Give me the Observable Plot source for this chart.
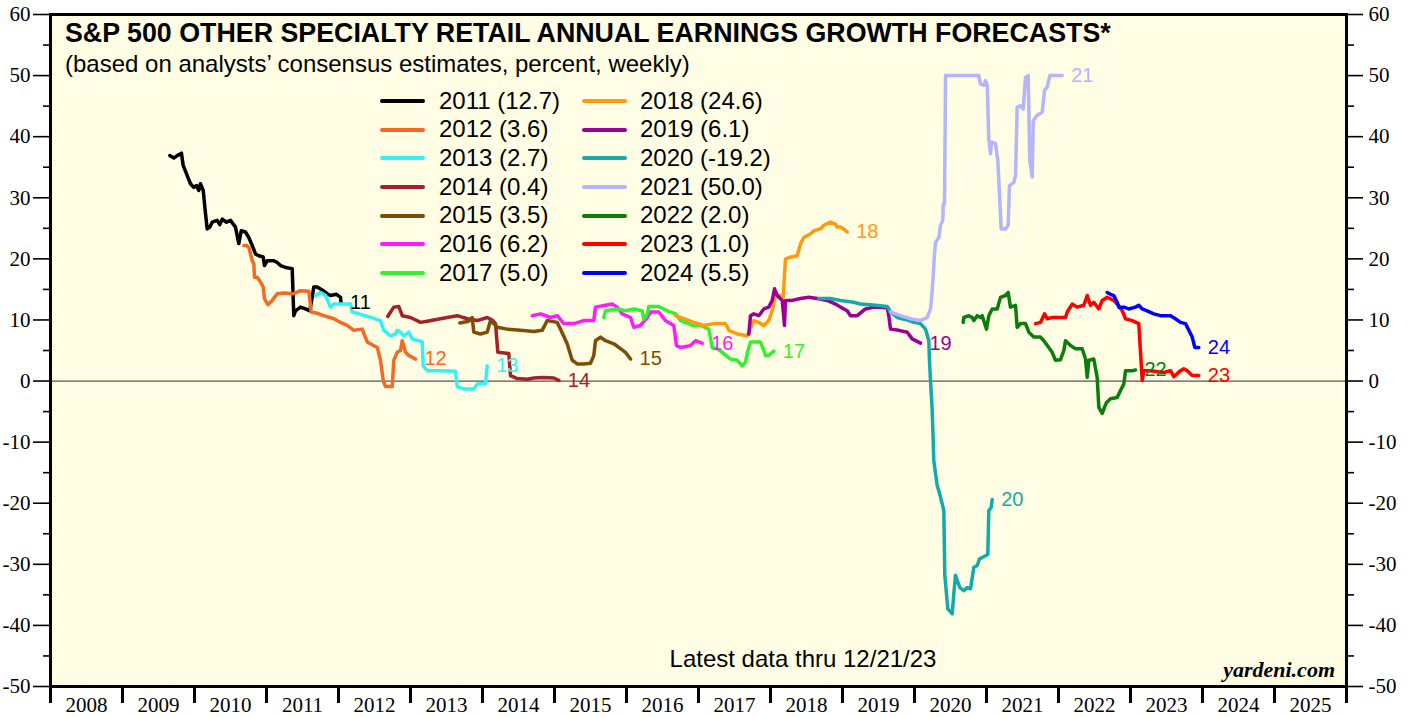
<!DOCTYPE html>
<html>
<head>
<meta charset="utf-8">
<script src="https://cdn.jsdelivr.net/npm/d3@7"></script>
<script src="https://cdn.jsdelivr.net/npm/@observablehq/plot@0.6"></script>
<style>
  html, body { margin: 0; padding: 0; background: #fff; }
  #wrap { position: relative; width: 1411px; height: 717px; overflow: hidden; }
  .ov { position: absolute; white-space: nowrap; line-height: 1; font-family: "Liberation Sans", Arial, sans-serif; color: #000; }
  #legend { position: absolute; left: 380px; top: 86.7px; display: flex; gap: 0; font-family: "Liberation Sans", Arial, sans-serif; font-size: 24px; }
  .col { display: flex; flex-direction: column; }
  .row { display: flex; align-items: center; height: 28.67px; }
  .sw { display: inline-block; width: 45px; height: 4px; border-radius: 2px; }
  .lt { line-height: 28.67px; white-space: nowrap; }
</style>
</head>
<body>
<div id="wrap"></div>
<script>
// ---- data ----
const seriesNames = ["2011","2012","2013","2014","2015","2016","2017","2018","2019","2020","2021","2022","2023","2024"];
const finalValues = ["12.7","3.6","2.7","0.4","3.5","6.2","5.0","24.6","6.1","-19.2","50.0","2.0","1.0","5.5"];
const endLabels = ["11","12","13","14","15","16","17","18","19","20","21","22","23","24"];
const seriesColors = ["#000000","#f26a24","#33f2f5","#a3222a","#7f4c06","#ff1aff","#33f033","#ff9a0e","#990099","#12aaaa","#b4b4ff","#0a7d0a","#ff0000","#0000ff"];

const s2011 = [[2009.657,36.9],[2009.713,36.5],[2009.760,36.9],[2009.819,37.3],[2009.843,35.3],[2009.889,33.9],[2009.944,32.3],[2009.990,31.7],[2010.028,32.0],[2010.060,31.2],[2010.083,32.3],[2010.121,31.2],[2010.153,27.4],[2010.176,24.9],[2010.213,25.2],[2010.246,26.0],[2010.315,26.3],[2010.351,25.6],[2010.385,26.5],[2010.444,26.0],[2010.500,26.3],[2010.569,25.2],[2010.615,22.5],[2010.649,24.6],[2010.708,24.4],[2010.754,23.5],[2010.801,22.2],[2010.847,20.8],[2010.893,20.5],[2010.954,20.3],[2010.972,18.9],[2011.010,19.7],[2011.101,19.7],[2011.149,19.4],[2011.194,18.9],[2011.264,18.6],[2011.357,18.4],[2011.379,10.7],[2011.403,11.5],[2011.472,12.1],[2011.542,11.8],[2011.601,11.5],[2011.635,13.7],[2011.657,15.4],[2011.704,15.4],[2011.774,14.9],[2011.843,14.3],[2011.889,14.0],[2011.972,14.2],[2012.028,13.7],[2012.035,12.9]];
const s2012 = [[2010.685,22.2],[2010.722,22.2],[2010.754,21.9],[2010.801,19.7],[2010.824,19.2],[2010.833,17.0],[2010.871,17.0],[2010.917,16.2],[2010.954,15.4],[2010.972,13.5],[2011.018,12.5],[2011.079,13.2],[2011.149,14.3],[2011.240,14.4],[2011.379,14.3],[2011.472,14.8],[2011.588,14.7],[2011.621,11.3],[2011.704,11.1],[2011.796,10.7],[2011.935,10.2],[2012.028,9.6],[2012.121,9.1],[2012.213,8.3],[2012.329,8.5],[2012.399,6.4],[2012.538,5.5],[2012.583,3.4],[2012.621,0.1],[2012.653,-0.9],[2012.746,-0.9],[2012.768,3.4],[2012.815,4.7],[2012.861,5.0],[2012.885,6.6],[2012.931,4.7],[2012.976,4.2],[2013.069,3.6]];
const s2013 = [[2011.681,14.0],[2011.750,14.5],[2011.819,14.0],[2011.889,12.1],[2011.935,12.6],[2012.167,12.6],[2012.190,11.3],[2012.375,10.7],[2012.583,9.9],[2012.629,8.3],[2012.722,7.4],[2012.792,7.7],[2012.815,8.3],[2012.861,8.0],[2012.907,7.4],[2012.976,8.0],[2013.024,6.9],[2013.115,6.6],[2013.163,6.4],[2013.176,2.5],[2013.232,1.7],[2013.417,1.7],[2013.625,1.6],[2013.649,-0.9],[2013.740,-1.3],[2013.879,-1.3],[2013.926,-0.5],[2014.042,-0.4],[2014.065,2.5]];
const s2014 = [[2012.685,10.6],[2012.768,12.1],[2012.838,12.2],[2012.885,10.7],[2013.000,10.4],[2013.139,9.6],[2013.232,9.8],[2013.324,10.0],[2013.510,10.4],[2013.649,10.7],[2013.788,10.2],[2013.926,9.9],[2014.065,10.4],[2014.135,10.0],[2014.181,9.4],[2014.213,4.7],[2014.365,4.5],[2014.389,0.9],[2014.482,0.4],[2014.621,0.3],[2014.713,0.5],[2014.851,0.6],[2014.990,0.5],[2015.060,0.1]];
const s2015 = [[2013.685,9.5],[2013.810,9.8],[2013.857,10.4],[2013.879,8.0],[2013.972,7.7],[2014.065,8.0],[2014.111,9.9],[2014.204,8.8],[2014.343,8.5],[2014.528,8.3],[2014.713,8.1],[2014.829,8.3],[2014.899,9.9],[2015.038,9.6],[2015.083,8.5],[2015.176,6.1],[2015.246,3.4],[2015.315,2.8],[2015.407,2.8],[2015.500,2.9],[2015.546,4.2],[2015.569,6.6],[2015.639,7.2],[2015.708,6.6],[2015.824,6.1],[2015.917,5.3],[2015.986,4.7],[2016.056,3.6]];
const s2016 = [[2014.690,10.7],[2014.806,11.0],[2014.944,10.4],[2015.038,10.7],[2015.129,9.4],[2015.268,9.4],[2015.407,9.9],[2015.546,9.9],[2015.569,12.1],[2015.708,12.4],[2015.801,12.6],[2015.871,12.1],[2015.940,11.0],[2016.056,10.4],[2016.101,8.8],[2016.194,9.1],[2016.288,10.4],[2016.333,11.3],[2016.449,11.3],[2016.542,9.9],[2016.611,9.4],[2016.657,9.1],[2016.694,5.8],[2016.750,5.5],[2016.889,5.8],[2016.958,6.6],[2017.051,6.2]];
const s2017 = [[2015.685,10.4],[2015.708,11.5],[2015.871,11.8],[2015.986,11.5],[2016.101,11.8],[2016.218,11.5],[2016.240,10.1],[2016.288,11.0],[2016.310,12.2],[2016.449,12.2],[2016.565,11.5],[2016.681,11.0],[2016.750,9.9],[2016.843,9.5],[2016.913,9.1],[2017.028,9.1],[2017.143,8.5],[2017.190,5.5],[2017.260,5.3],[2017.351,4.5],[2017.444,3.6],[2017.538,3.4],[2017.607,2.5],[2017.653,3.1],[2017.676,4.5],[2017.722,6.4],[2017.861,6.4],[2017.907,5.0],[2017.931,4.2],[2017.976,4.2],[2018.046,4.9]];
const s2018 = [[2016.681,10.7],[2016.796,10.2],[2016.935,9.6],[2017.074,9.1],[2017.213,9.4],[2017.375,9.4],[2017.421,8.3],[2017.538,7.7],[2017.676,7.4],[2017.768,9.9],[2017.838,9.6],[2017.907,9.1],[2017.976,9.9],[2018.024,11.5],[2018.069,14.0],[2018.139,14.0],[2018.176,13.7],[2018.208,20.0],[2018.278,20.3],[2018.371,20.5],[2018.417,22.5],[2018.463,23.5],[2018.556,24.1],[2018.601,24.6],[2018.694,24.9],[2018.740,25.5],[2018.833,26.0],[2018.903,25.7],[2018.926,25.2],[2018.972,25.2],[2019.018,24.9],[2019.065,24.4]];
const s2019 = [[2017.699,7.7],[2017.722,10.7],[2017.768,11.0],[2017.838,10.7],[2017.907,11.8],[2017.976,12.1],[2018.024,13.2],[2018.056,15.1],[2018.093,14.0],[2018.163,13.2],[2018.194,9.1],[2018.208,13.2],[2018.301,13.2],[2018.417,13.5],[2018.532,13.7],[2018.649,13.5],[2018.788,13.2],[2018.903,12.6],[2018.972,12.1],[2019.065,11.5],[2019.111,10.7],[2019.204,10.7],[2019.319,11.8],[2019.435,12.1],[2019.621,12.0],[2019.643,10.7],[2019.667,8.5],[2019.782,8.3],[2019.899,8.0],[2019.968,6.9],[2020.083,6.2]];
const s2020 = [[2018.671,13.5],[2018.833,13.5],[2018.972,13.2],[2019.157,12.9],[2019.250,12.6],[2019.389,12.5],[2019.621,12.2],[2019.667,11.3],[2019.760,10.4],[2019.899,10.0],[2019.990,9.6],[2020.083,9.4],[2020.153,8.5],[2020.199,6.6],[2020.208,3.4],[2020.222,0.1],[2020.246,-4.8],[2020.268,-13.0],[2020.315,-17.1],[2020.351,-18.5],[2020.385,-20.1],[2020.407,-21.2],[2020.421,-31.8],[2020.463,-37.3],[2020.524,-38.1],[2020.546,-34.8],[2020.569,-31.8],[2020.629,-33.8],[2020.685,-34.3],[2020.732,-33.8],[2020.778,-34.0],[2020.824,-30.5],[2020.871,-30.2],[2020.903,-29.1],[2020.986,-28.6],[2021.018,-28.4],[2021.032,-21.2],[2021.065,-20.7],[2021.079,-19.4]];
const s2021 = [[2019.667,11.3],[2019.806,10.7],[2019.944,10.2],[2020.083,9.9],[2020.176,10.4],[2020.222,11.8],[2020.246,14.8],[2020.278,20.8],[2020.292,22.7],[2020.338,23.5],[2020.361,25.5],[2020.393,26.3],[2020.399,29.0],[2020.417,29.0],[2020.431,50.0],[2020.569,50.0],[2020.732,50.0],[2020.893,50.0],[2020.917,48.6],[2020.963,48.4],[2020.986,49.2],[2021.010,48.4],[2021.032,39.6],[2021.056,37.2],[2021.069,39.1],[2021.125,38.9],[2021.157,36.1],[2021.204,24.9],[2021.264,24.9],[2021.301,25.5],[2021.319,32.0],[2021.379,32.5],[2021.403,33.6],[2021.426,44.8],[2021.472,45.1],[2021.510,44.5],[2021.542,49.7],[2021.579,50.0],[2021.601,36.1],[2021.635,33.4],[2021.649,42.6],[2021.704,43.5],[2021.774,44.0],[2021.806,47.6],[2021.843,48.1],[2021.879,50.0],[2022.051,50.0]];
const s2022 = [[2020.676,9.6],[2020.685,10.4],[2020.754,10.7],[2020.801,10.4],[2020.824,9.9],[2020.871,10.7],[2020.917,10.4],[2020.940,10.7],[2021.000,8.5],[2021.032,10.7],[2021.079,11.8],[2021.149,11.8],[2021.194,13.7],[2021.264,14.0],[2021.301,14.5],[2021.333,12.1],[2021.403,12.4],[2021.426,8.8],[2021.472,9.4],[2021.542,9.4],[2021.588,8.0],[2021.657,7.2],[2021.750,7.2],[2021.796,6.6],[2021.865,5.5],[2021.912,4.7],[2021.958,3.4],[2022.028,3.5],[2022.074,5.0],[2022.097,6.6],[2022.167,5.8],[2022.236,5.3],[2022.329,5.3],[2022.375,3.6],[2022.399,0.6],[2022.421,3.4],[2022.490,3.6],[2022.537,0.6],[2022.560,-4.3],[2022.607,-5.3],[2022.639,-4.3],[2022.667,-3.5],[2022.722,-2.9],[2022.815,-2.7],[2022.871,-1.3],[2022.907,-0.5],[2022.931,1.7],[2023.024,1.7],[2023.069,1.8]];
const s2023 = [[2021.681,9.4],[2021.750,9.6],[2021.806,11.0],[2021.843,10.2],[2021.912,10.4],[2021.982,10.4],[2022.097,10.4],[2022.121,11.3],[2022.190,12.6],[2022.260,12.1],[2022.351,12.4],[2022.399,14.0],[2022.444,12.4],[2022.490,12.9],[2022.560,11.8],[2022.607,13.2],[2022.676,13.7],[2022.768,13.2],[2022.815,12.6],[2022.885,11.5],[2022.931,10.2],[2023.024,9.9],[2023.115,9.4],[2023.163,0.1],[2023.185,1.7],[2023.278,1.7],[2023.463,1.4],[2023.556,1.7],[2023.601,0.7],[2023.694,1.7],[2023.740,2.0],[2023.787,1.7],[2023.857,0.9],[2023.949,0.9]];
const s2024 = [[2022.676,14.5],[2022.722,14.2],[2022.768,14.0],[2022.815,12.9],[2022.838,12.1],[2022.907,12.1],[2022.976,11.8],[2023.069,12.1],[2023.115,12.4],[2023.163,11.8],[2023.231,11.5],[2023.324,11.0],[2023.417,10.7],[2023.556,10.7],[2023.625,10.2],[2023.694,9.6],[2023.764,9.4],[2023.810,8.3],[2023.857,7.2],[2023.893,5.5],[2023.949,5.5]];

const allSeries = [s2011,s2012,s2013,s2014,s2015,s2016,s2017,s2018,s2019,s2020,s2021,s2022,s2023,s2024];

const yMajorTicks = [-50,-40,-30,-20,-10,0,10,20,30,40,50,60];
const yMinorTicks = [-45,-35,-25,-15,-5,5,15,25,35,45,55];
const yearBoundaries = [2008,2009,2010,2011,2012,2013,2014,2015,2016,2017,2018,2019,2020,2021,2022,2023,2024,2025,2026];
const yearLabels = [2008,2009,2010,2011,2012,2013,2014,2015,2016,2017,2018,2019,2020,2021,2022,2023,2024,2025];

const titleText = "S&P 500 OTHER SPECIALTY RETAIL ANNUAL EARNINGS GROWTH FORECASTS*";
const subtitleText = "(based on analysts\u2019 consensus estimates, percent, weekly)";
const noteText = "Latest data thru 12/21/23";
const sourceText = "yardeni.com";

// ---- chart ----
const BG = "#fffee4";
const lineMarks = allSeries.map((s, i) => Plot.line(s, {x: d => d[0], y: d => d[1], stroke: seriesColors[i], strokeWidth: 3.5, strokeLinejoin: "round", strokeLinecap: "round"}));
const labelMarks = allSeries.map((s, i) => Plot.text([s[s.length - 1]], {x: d => d[0], y: d => d[1], text: () => endLabels[i], fill: seriesColors[i], dx: 9, textAnchor: "start", fontSize: 20, fontFamily: "Liberation Sans, Arial, sans-serif"}));

const chart = Plot.plot({
  width: 1411,
  height: 717,
  marginLeft: 50,
  marginRight: 65,
  marginTop: 14,
  marginBottom: 31,
  style: {fontFamily: "Liberation Serif, Times New Roman, serif", fontSize: "21px", background: "transparent", color: "#000"},
  x: {domain: [2008, 2026]},
  y: {domain: [-50, 60]},
  marks: [
    Plot.frame({fill: BG}),
    Plot.ruleY([0], {stroke: "#555", strokeWidth: 1.3}),
    ...lineMarks,
    ...labelMarks,
    Plot.frame({stroke: "#000", strokeWidth: 3}),
    Plot.axisY(yMajorTicks, {anchor: "left", tickSize: 17, tickPadding: 3, tickFormat: d => String(d), strokeWidth: 1.6, label: null, fontSize: 21}),
    Plot.axisY(yMinorTicks, {anchor: "left", tickSize: 7, tickFormat: () => "", strokeWidth: 1.6, label: null}),
    Plot.axisY(yMajorTicks, {anchor: "right", tickSize: 16, tickPadding: 6, tickFormat: d => String(d), strokeWidth: 1.6, label: null, fontSize: 21}),
    Plot.axisY(yMinorTicks, {anchor: "right", tickSize: 7, tickFormat: () => "", strokeWidth: 1.6, label: null}),
    Plot.axisX(yearBoundaries, {anchor: "bottom", tickSize: 17, tickFormat: () => "", strokeWidth: 3, label: null}),
    Plot.axisX(yearLabels.map(y => y + 0.5), {anchor: "bottom", tickSize: 0, tickPadding: 11, tickFormat: d => String(Math.floor(d)), label: null, fontSize: 21})
  ]
});

const wrap = document.getElementById("wrap");
wrap.appendChild(chart);

function addText(txt, css) {
  const d = document.createElement("div");
  d.className = "ov";
  d.textContent = txt;
  Object.assign(d.style, css);
  wrap.appendChild(d);
  return d;
}
addText(titleText, {left: "65px", top: "20.4px", fontSize: "26.8px", fontWeight: "bold"});
addText(subtitleText, {left: "65px", top: "51.7px", fontSize: "24px"});
addText(noteText, {left: "803px", top: "646.7px", fontSize: "24px", transform: "translateX(-50%)"});
addText(sourceText, {right: "76px", top: "658.6px", fontSize: "22px", fontWeight: "bold", fontStyle: "italic", fontFamily: "Liberation Serif, Times New Roman, serif"});

// legend
const legend = document.createElement("div");
legend.id = "legend";
const colLefts = [0, 202];
for (let c = 0; c < 2; c++) {
  const col = document.createElement("div");
  col.className = "col";
  col.style.position = "absolute";
  col.style.left = colLefts[c] + "px";
  col.style.top = "0px";
  for (let r = 0; r < 7; r++) {
    const i = c * 7 + r;
    const row = document.createElement("div");
    row.className = "row";
    const sw = document.createElement("span");
    sw.className = "sw";
    sw.style.background = seriesColors[i];
    const t = document.createElement("span");
    t.className = "lt";
    t.style.marginLeft = (c === 0 ? 14 : 13) + "px";
    t.textContent = seriesNames[i] + " (" + finalValues[i] + ")";
    row.appendChild(sw);
    row.appendChild(t);
    col.appendChild(row);
  }
  legend.appendChild(col);
}
wrap.appendChild(legend);
</script>
</body>
</html>
